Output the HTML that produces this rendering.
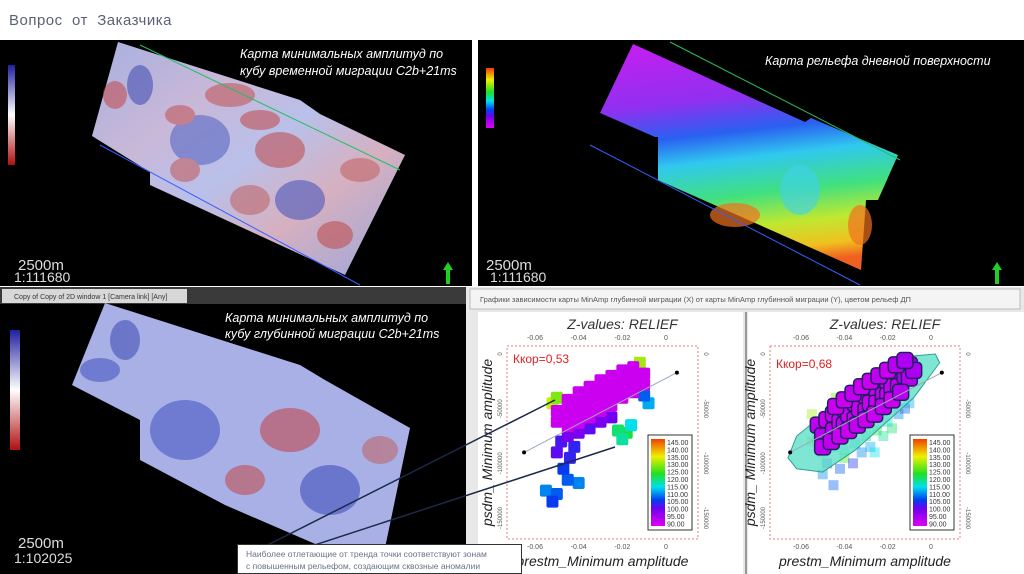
<!DOCTYPE html>
<html><head><meta charset="utf-8">
<style>
body{margin:0;width:1024px;height:574px;overflow:hidden;background:#fff;font-family:"Liberation Sans","DejaVu Sans",sans-serif;position:relative}
.abs{position:absolute}
</style></head>
<body>
<div class="abs" style="left:9px;top:12px;font-size:15px;color:#5a6275;letter-spacing:0.5px">Вопрос&nbsp; от&nbsp; Заказчика</div>

<svg class="abs" style="left:0;top:0" width="1024" height="574">
<defs>
<linearGradient id="amp" x1="0" y1="0" x2="1" y2="1">
<stop offset="0" stop-color="#a8b0e0"/><stop offset="0.3" stop-color="#c9b8d8"/><stop offset="0.5" stop-color="#b9c0ea"/><stop offset="0.7" stop-color="#d6b0c0"/><stop offset="1" stop-color="#9aa6dc"/></linearGradient>
<linearGradient id="relief" x1="0.3" y1="0" x2="0.45" y2="1">
<stop offset="0" stop-color="#c020f0"/><stop offset="0.25" stop-color="#9030f0"/><stop offset="0.4" stop-color="#2a60f0"/><stop offset="0.52" stop-color="#30c8f0"/><stop offset="0.68" stop-color="#40e080"/><stop offset="0.82" stop-color="#c0e830"/><stop offset="0.93" stop-color="#f0c020"/><stop offset="1" stop-color="#f06020"/></linearGradient>
<linearGradient id="cbar" x1="0" y1="1" x2="0" y2="0">
<stop offset="0" stop-color="#e000f0"/><stop offset="0.2" stop-color="#7000f0"/><stop offset="0.3" stop-color="#0040f0"/><stop offset="0.45" stop-color="#00e0f0"/><stop offset="0.6" stop-color="#20e020"/><stop offset="0.8" stop-color="#f0f000"/><stop offset="1" stop-color="#f04000"/></linearGradient>
<linearGradient id="bwr" x1="0" y1="0" x2="0" y2="1">
<stop offset="0" stop-color="#2020a0"/><stop offset="0.5" stop-color="#ffffff"/><stop offset="1" stop-color="#b01010"/></linearGradient>
</defs>

<g>
<rect x="0" y="40" width="472" height="246" fill="#000"/>
<polygon points="118,42 300,100 320,114 405,155 345,275 150,185 150,172 92,136" fill="url(#amp)"/>
<g opacity="0.55">
<ellipse cx="140" cy="85" rx="13" ry="20" fill="#3c48b0"/>
<ellipse cx="115" cy="95" rx="12" ry="14" fill="#c04848"/>
<ellipse cx="200" cy="140" rx="30" ry="25" fill="#5060c0"/>
<ellipse cx="180" cy="115" rx="15" ry="10" fill="#c05050"/>
<ellipse cx="280" cy="150" rx="25" ry="18" fill="#c04848"/>
<ellipse cx="260" cy="120" rx="20" ry="10" fill="#c04848"/>
<ellipse cx="300" cy="200" rx="25" ry="20" fill="#4050b8"/>
<ellipse cx="335" cy="235" rx="18" ry="14" fill="#c04848"/>
<ellipse cx="230" cy="95" rx="25" ry="12" fill="#c05050"/>
<ellipse cx="360" cy="170" rx="20" ry="12" fill="#c06060"/>
<ellipse cx="250" cy="200" rx="20" ry="15" fill="#c06060"/>
<ellipse cx="185" cy="170" rx="15" ry="12" fill="#c05858"/>
</g>
<line x1="100" y1="145" x2="360" y2="285" stroke="#3060ff" stroke-width="1"/>
<line x1="140" y1="45" x2="400" y2="170" stroke="#20c060" stroke-width="1"/>
<rect x="8" y="65" width="7" height="100" fill="url(#bwr)"/>
<text x="18" y="270" font-size="15" fill="#ddd">2500m</text>
<text x="14" y="282" font-size="14" fill="#ddd">1:111680</text>
<polygon points="448,262 443,270 446,270 446,284 450,284 450,270 453,270" fill="#20d020"/>
<text x="240" y="58" font-size="12.5" font-style="italic" fill="#fff">Карта минимальных амплитуд по</text>
<text x="240" y="75" font-size="12.5" font-style="italic" fill="#fff">кубу временной миграции C2b+21ms</text>
</g>

<g>
<rect x="478" y="40" width="546" height="246" fill="#000"/>
<polygon points="633,44 805,122 811,118 898,155 878,200 866,200 861,270 658,180 658,137 655,137 600,113" fill="url(#relief)"/>
<ellipse cx="735" cy="215" rx="25" ry="12" fill="#f07020" opacity="0.7"/>
<ellipse cx="860" cy="225" rx="12" ry="20" fill="#f07020" opacity="0.7"/>
<ellipse cx="800" cy="190" rx="20" ry="25" fill="#40d0f0" opacity="0.6"/>
<line x1="590" y1="145" x2="860" y2="285" stroke="#3060ff" stroke-width="1"/>
<line x1="670" y1="42" x2="900" y2="160" stroke="#20c060" stroke-width="1"/>
<rect x="486" y="68" width="8" height="60" fill="url(#cbar)"/>
<text x="486" y="270" font-size="15" fill="#ddd">2500m</text>
<text x="490" y="282" font-size="14" fill="#ddd">1:111680</text>
<polygon points="997,262 992,270 995,270 995,284 999,284 999,270 1002,270" fill="#20d020"/>
<text x="765" y="65" font-size="12.5" font-style="italic" fill="#fff">Карта рельефа дневной поверхности</text>
</g>

<g>
<rect x="0" y="287" width="472" height="287" fill="#3a3a3a"/>
<rect x="2" y="289" width="185" height="14" fill="#d8d8d8"/>
<text x="14" y="299" font-size="7" fill="#333">Copy of Copy of 2D window 1 [Camera link] [Any]</text>
<rect x="0" y="304" width="466" height="270" fill="#000"/>
<polygon points="105,303 300,365 325,380 410,428 380,572 225,505 140,460 140,420 72,385" fill="#a8b0e6"/>
<g opacity="0.55">
<ellipse cx="125" cy="340" rx="15" ry="20" fill="#3c48b0"/>
<ellipse cx="185" cy="430" rx="35" ry="30" fill="#4050c0"/>
<ellipse cx="290" cy="430" rx="30" ry="22" fill="#c04040"/>
<ellipse cx="245" cy="480" rx="20" ry="15" fill="#c04848"/>
<ellipse cx="330" cy="490" rx="30" ry="25" fill="#3848b8"/>
<ellipse cx="100" cy="370" rx="20" ry="12" fill="#4050c0"/>
<ellipse cx="380" cy="450" rx="18" ry="14" fill="#c06060"/>
</g>
<rect x="10" y="330" width="10" height="120" fill="url(#bwr)"/>
<text x="18" y="548" font-size="15" fill="#ddd">2500m</text>
<text x="14" y="563" font-size="14" fill="#ddd">1:102025</text>
<text x="225" y="322" font-size="12.5" font-style="italic" fill="#fff">Карта минимальных амплитуд по</text>
<text x="225" y="338" font-size="12.5" font-style="italic" fill="#fff">кубу глубинной миграции C2b+21ms</text>
</g>

<rect x="466" y="287" width="558" height="287" fill="#e8e8e8"/>
<rect x="470" y="289" width="550" height="20" fill="#f4f4f4" stroke="#bbb"/>
<text x="480" y="302" font-size="7.5" fill="#555">Графики  зависимости карты MinAmp глубинной миграции (X) от карты MinAmp глубинной миграции (Y), цветом рельеф ДП</text>
<rect x="478" y="312" width="265" height="262" fill="#fff"/>
<rect x="745" y="312" width="2" height="262" fill="#999"/>
<rect x="748" y="312" width="276" height="262" fill="#fff"/>
<g id="plots"></g>

<line x1="238" y1="560" x2="555" y2="400" stroke="#1a2a4a" stroke-width="1.5"/>
<line x1="238" y1="570" x2="615" y2="447" stroke="#1a2a4a" stroke-width="1.5"/>
</svg>
<div class="abs" style="left:237px;top:544px;width:285px;height:30px;background:#fff;border:1px solid #333;font-size:8.5px;color:#6a7288;line-height:12px;padding:3px 0 0 8px;box-sizing:border-box">Наиболее отлетающие от тренда точки соответствуют зонам<br>с повышенным рельефом, создающим сквозные аномалии</div>

<script>
const xTicks=[-0.06,-0.04,-0.02,0];
const yTicks=[0,-50000,-100000,-150000];
const cbarLabels=["145.00","140.00","135.00","130.00","125.00","120.00","115.00","110.00","105.00","100.00","95.00","90.00"];
// plot 1 points
const p1x=[-0.05,-0.05,-0.045,-0.045,-0.045,-0.045,-0.04,-0.04,-0.04,-0.04,-0.035,-0.035,-0.035,-0.035,-0.03,-0.03,-0.03,-0.03,-0.025,-0.025,-0.025,-0.025,-0.02,-0.02,-0.02,-0.02,-0.015,-0.015,-0.015,-0.015,-0.01,-0.01,
 -0.045,-0.04,-0.035,-0.048,-0.042,-0.05,-0.03,-0.025,
 -0.022,-0.018,-0.02,-0.016,
 -0.047,-0.045,-0.04,-0.055,-0.05,-0.052,-0.044,
 -0.012,-0.05,-0.052,-0.008,-0.01];
const p1y=[-52000,-62000,-42000,-50000,-58000,-66000,-35000,-45000,-55000,-63000,-30000,-38000,-48000,-58000,-24000,-32000,-42000,-52000,-20000,-27000,-37000,-47000,-15000,-22000,-30000,-40000,-12000,-18000,-26000,-35000,-18000,-28000,
 -75000,-72000,-68000,-80000,-85000,-90000,-62000,-58000,
 -70000,-72000,-78000,-65000,
 -105000,-115000,-118000,-125000,-128000,-135000,-95000,
 -8000,-40000,-45000,-45000,-38000];
const p1z=[92,92,92,92,92,92,92,92,92,92,92,92,92,92,92,92,92,92,92,92,92,92,92,92,92,92,92,92,92,92,92,92,
 100,100,102,103,104,102,100,101,
 120,122,118,115,
 106,108,110,110,108,106,104,
 130,128,132,112,108];
// plot 2 points
const p2x=[-0.052,-0.05,-0.048,-0.045,-0.045,-0.042,-0.04,-0.04,-0.038,-0.035,-0.035,-0.033,-0.03,-0.03,-0.028,-0.025,-0.025,-0.022,-0.02,-0.02,-0.018,-0.015,-0.015,-0.012,-0.01,-0.01,-0.008,
 -0.05,-0.046,-0.042,-0.038,-0.034,-0.03,-0.026,-0.022,-0.018,-0.014,-0.044,-0.04,-0.036,-0.032,-0.028,-0.024,-0.02,-0.016,-0.012,
 -0.05,-0.045,-0.04,-0.035,-0.03,-0.025,-0.02,-0.015,-0.012,-0.055,-0.05,-0.045,-0.04,-0.048,-0.032,-0.028,-0.022,-0.018,-0.01,-0.055,-0.042,-0.036,-0.026,-0.044];
const p2y=[-65000,-75000,-60000,-55000,-70000,-62000,-50000,-65000,-55000,-45000,-60000,-50000,-38000,-52000,-45000,-32000,-45000,-38000,-25000,-38000,-30000,-18000,-30000,-20000,-10000,-22000,-15000,
 -85000,-80000,-75000,-70000,-65000,-60000,-55000,-48000,-42000,-35000,-48000,-42000,-36000,-30000,-25000,-20000,-15000,-10000,-6000,
 -90000,-85000,-88000,-82000,-75000,-70000,-62000,-55000,-50000,-80000,-110000,-120000,-95000,-100000,-90000,-85000,-75000,-68000,-45000,-55000,-105000,-100000,-90000,-40000];
const p2z=[93,94,92,92,93,92,92,93,92,92,92,92,92,93,92,92,92,93,92,92,92,94,93,95,96,94,95,
 93,93,92,92,93,92,92,93,92,94,92,92,93,92,92,93,92,94,95,
 112,115,118,112,120,122,116,110,108,128,110,108,125,106,110,112,118,120,112,130,108,105,115,128];

function cmap(z){const t=(z-90)/55;const s=[[224,0,240],[112,0,240],[0,64,240],[0,224,240],[32,224,32],[240,240,0],[240,64,0]];const st=[0,0.2,0.3,0.45,0.6,0.8,1];for(let i=1;i<st.length;i++){if(t<=st[i]){const f=(t-st[i-1])/(st[i]-st[i-1]);const a=s[i-1],b=s[i];return `rgb(${a.map((v,k)=>Math.round(v+(b[k]-v)*f)).join(',')})`;}}return 'rgb(240,64,0)';}
const NS="http://www.w3.org/2000/svg";
const root=document.getElementById('plots');
function el(tag,attrs,parent){const e=document.createElementNS(NS,tag);for(const k in attrs)e.setAttribute(k,attrs[k]);(parent||root).appendChild(e);return e;}
function plot(cfg,xs,ys,zs,kor,id){
  const g=el('g',{});
  
  
  const sx=v=>cfg.x0+(v+0.06)/0.06*(cfg.xz-cfg.x0);
  const sy=v=>cfg.y0+(-v)/150000*(cfg.y150-cfg.y0);
  el('rect',{x:cfg.l,y:cfg.t,width:cfg.r-cfg.l,height:cfg.b-cfg.t,fill:'none',stroke:'#e08080','stroke-dasharray':'2,2'},g);
  if(cfg.ell){
    const order0=[...xs.keys()].filter(i=>zs[i]>=100);
    for(const i of order0){
      const r=el('rect',{x:sx(xs[i])-5,y:sy(ys[i])-5,width:10,height:10,fill:cmap(zs[i]),'fill-opacity':0.4},g);
      
      
    }
    const e=el('polygon',{points:`${sx(-0.066)},${sy(-95000)} ${sx(-0.062)},${sy(-75000)} ${sx(-0.04)},${sy(-40000)} ${sx(-0.015)},${sy(-3000)} ${sx(0.002)},${sy(0)} ${sx(0.004)},${sy(-8000)} ${sx(-0.008)},${sy(-40000)} ${sx(-0.035)},${sy(-88000)} ${sx(-0.05)},${sy(-108000)} ${sx(-0.062)},${sy(-105000)}`,fill:'#5ee0c8',stroke:'#30a090','fill-opacity':0.8},g);
    
    
    for(const i of [...xs.keys()].filter(i=>zs[i]<100)){
      const r=el('rect',{x:sx(xs[i])-8,y:sy(ys[i])-8,width:16,height:16,rx:4,fill:cmap(zs[i]),stroke:'#202060','stroke-width':1.5},g);
      
      
    }
  } else {
    const order=[...xs.keys()].sort((a,b)=>zs[b]-zs[a]);
    for(const i of order){
      const r=el('rect',{x:sx(xs[i])-6,y:sy(ys[i])-6,width:12,height:12,rx:2,fill:cmap(zs[i])},g);
      
      
    }
  }
  const tl=el('line',{x1:sx(-0.065),y1:sy(-90000),x2:sx(0.005),y2:sy(-17000),stroke:'#9ab',"stroke-width":1},g);
  
  
  el('circle',{cx:sx(-0.065),cy:sy(-90000),r:2,fill:'#000'},g);
  el('circle',{cx:sx(0.005),cy:sy(-17000),r:2,fill:'#000'},g);
  xTicks.forEach(v=>{
    const t1=el('text',{x:sx(v),y:cfg.t-6,'font-size':7,'text-anchor':'middle',fill:'#555'},g);t1.textContent=v===0?'0':v.toFixed(2);
    
    
    const t2=el('text',{x:sx(v),y:cfg.b+10,'font-size':7,'text-anchor':'middle',fill:'#555'},g);t2.textContent=v===0?'0':v.toFixed(2);
    
    
  });
  yTicks.forEach(v=>{
    const t=el('text',{x:0,y:0,'font-size':6,'text-anchor':'middle',fill:'#555',transform:`translate(${cfg.l-5},${sy(v)}) rotate(-90)`},g);t.textContent=v;
    
    
    const t2=el('text',{x:0,y:0,'font-size':6,'text-anchor':'middle',fill:'#555',transform:`translate(${cfg.r+6},${sy(v)}) rotate(90)`},g);t2.textContent=v;
    
    
  });
  const tt=el('text',{x:(cfg.l+cfg.r)/2+20,y:cfg.t-17,'font-size':14,'font-style':'italic','text-anchor':'middle',fill:'#333'},g);tt.textContent='Z-values: RELIEF';
  
  
  const xl=el('text',{x:(cfg.l+cfg.r)/2,y:cfg.b+27,'font-size':14,'font-style':'italic','text-anchor':'middle',fill:'#222'},g);xl.textContent='prestm_Minimum amplitude';
  
  
  const yl=el('text',{x:0,y:0,'font-size':14,'font-style':'italic','text-anchor':'middle',fill:'#222',transform:`translate(${cfg.l-15},${(cfg.t+cfg.b)/2}) rotate(-90)`},g);yl.textContent='psdm_ Minimum amplitude';
  
  
  const k=el('text',{x:cfg.l+6,y:cfg.t+cfg.ky,'font-size':12,fill:'#e02020'},g);k.textContent=kor;
  
  
  const lx=cfg.r-50,ly=cfg.t+89;
  const lb=el('rect',{x:lx,y:ly,width:44,height:95,fill:'#fff',stroke:'#333'},g);
  
  
  el('rect',{x:lx+3,y:ly+4,width:14,height:87,fill:'url(#cbar)'},g);
  cbarLabels.forEach((s,i)=>{const t=el('text',{x:lx+19,y:ly+10+i*7.4,'font-size':7,fill:'#333'},g);t.textContent=s;
    
    });
}
plot({l:507,r:698,t:346,b:539,x0:535,xz:666,y0:354,y150:518,ky:17},p1x,p1y,p1z,'Ккор=0,53','scatter-plot-1');
plot({l:770,r:960,t:346,b:539,x0:801,xz:931,y0:354,y150:518,ell:true,ky:22},p2x,p2y,p2z,'Ккор=0,68','scatter-plot-2');
</script>
</body></html>
